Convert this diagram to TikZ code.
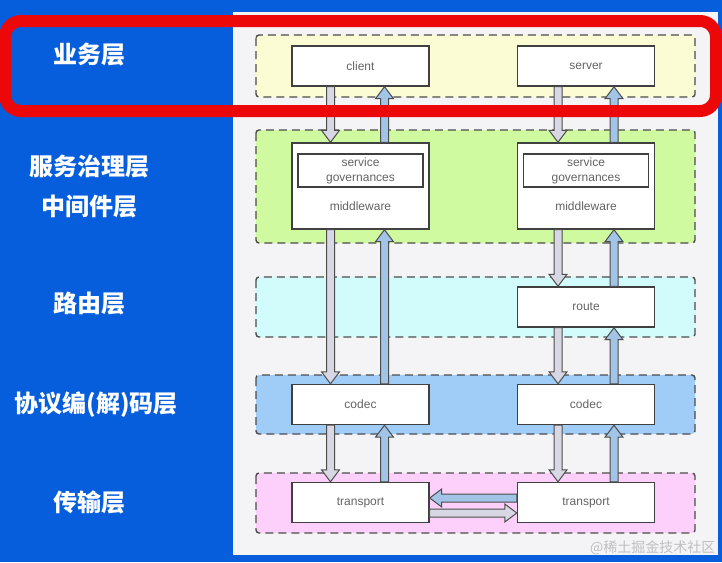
\documentclass[tikz,border=0pt]{standalone}
\usepackage{fontspec}
\setmainfont{Liberation Sans}
\newfontfamily\cjk{Noto Sans CJK SC}
\usetikzlibrary{calc}

\definecolor{bgblue}{RGB}{6,94,220}
\definecolor{panelgray}{RGB}{244,244,246}
\definecolor{markred}{RGB}{236,8,8}
\definecolor{layeryellow}{RGB}{252,252,212}
\definecolor{layergreen}{RGB}{208,250,160}
\definecolor{layercyan}{RGB}{210,252,252}
\definecolor{layerblue}{RGB}{160,204,248}
\definecolor{layerpink}{RGB}{252,208,250}
\definecolor{downfill}{RGB}{216,216,228}
\definecolor{upfill}{RGB}{162,196,230}
\definecolor{boxtext}{RGB}{100,100,100}

\tikzset{
  layer/.style={draw=black!70, line width=1.4pt, dash pattern=on 8pt off 5pt, rounded corners=3pt},
  module/.style={draw=black!75, line width=1.4pt, fill=white, minimum width=137pt, minimum height=40pt,
                 inner sep=0pt, text=boxtext, font=\fontsize{12}{14}\selectfont},
  sidelabel/.style={text=white, font=\cjk\bfseries\fontsize{24}{28}\selectfont},
  downarrow/.style={draw=black!70, line width=1pt, fill=downfill},
  uparrow/.style={draw=black!70, line width=1pt, fill=upfill}
}

% fat arrow from #2 to #3
\newcommand\blockarrow[3]{
  \path (#2) coordinate (ba-a) (#3) coordinate (ba-b);
  \path ($(ba-b)!12pt!(ba-a)$) coordinate (ba-h);
  \filldraw[#1] ($(ba-a)!4pt!90:(ba-b)$) -- ($(ba-h)!4pt!90:(ba-b)$) -- ($(ba-h)!9pt!90:(ba-b)$)
    -- (ba-b) -- ($(ba-h)!9pt!-90:(ba-b)$) -- ($(ba-h)!4pt!-90:(ba-b)$) -- ($(ba-a)!4pt!-90:(ba-b)$) -- cycle;
}

\begin{document}
\begin{tikzpicture}[x=1pt, y=-1pt]
    \useasboundingbox (0,0) rectangle (722,562);
    \fill[bgblue] (0,0) rectangle (722,562);
    \fill[panelgray] (233,12) rectangle (718,555);

    % Layers
    \draw[layer, fill=layeryellow] (256,35) rectangle (695,97);
    \draw[layer, fill=layergreen] (256,130) rectangle (695,243);
    \draw[layer, fill=layercyan] (256,277) rectangle (695,337);
    \draw[layer, fill=layerblue] (256,375) rectangle (695,434);
    \draw[layer, fill=layerpink] (256,473) rectangle (695,533);

    % Side labels
    \node[sidelabel] (lbiz) at (89,55) {业务层};
    \node[sidelabel] (lgov) at (89,167) {服务治理层};
    \node[sidelabel] (lmid) at (89,207) {中间件层};
    \node[sidelabel] (lroute) at (89,304) {路由层};
    \node[sidelabel] (lcodec) at (96,405) {协议编(解)码层};
    \node[sidelabel] (ltrans) at (89,502) {传输层};

    % Left column
    \node[module] (client) at (360.5,66) {client};
    \node[module, minimum height=86pt] (mwL) at (360.5,186) {};
    \node[module, minimum width=125pt, minimum height=33pt, align=center,
          font=\fontsize{12}{15}\selectfont] (govL) at (360.5,170.5) {service\\governances};
    \node[text=boxtext, font=\fontsize{12}{14}\selectfont] (mwLtext) at (360.5,206) {middleware};
    \node[module] (codecL) at (360.5,404.5) {codec};
    \node[module] (transL) at (360.5,502.5) {transport};

    % Right column
    \node[module] (server) at (586,66) {server};
    \node[module, minimum height=86pt] (mwR) at (586,186) {};
    \node[module, minimum width=125pt, minimum height=33pt, align=center,
          font=\fontsize{12}{15}\selectfont] (govR) at (586,170.5) {service\\governances};
    \node[text=boxtext, font=\fontsize{12}{14}\selectfont] (mwRtext) at (586,206) {middleware};
    \node[module] (route) at (586,307) {route};
    \node[module] (codecR) at (586,404.5) {codec};
    \node[module] (transR) at (586,502.5) {transport};

    % Arrows, left column
    \blockarrow{downarrow}{[xshift=-30pt]client.south}{[xshift=-30pt]mwL.north}
    \blockarrow{uparrow}{[xshift=24pt]mwL.north}{[xshift=24pt]client.south}
    \blockarrow{downarrow}{[xshift=-30pt]mwL.south}{[xshift=-30pt]codecL.north}
    \blockarrow{uparrow}{[xshift=24pt]codecL.north}{[xshift=24pt]mwL.south}
    \blockarrow{downarrow}{[xshift=-30pt]codecL.south}{[xshift=-30pt]transL.north}
    \blockarrow{uparrow}{[xshift=24pt]transL.north}{[xshift=24pt]codecL.south}

    % Arrows, right column
    \blockarrow{downarrow}{[xshift=-28pt]server.south}{[xshift=-28pt]mwR.north}
    \blockarrow{uparrow}{[xshift=28pt]mwR.north}{[xshift=28pt]server.south}
    \blockarrow{downarrow}{[xshift=-28pt]mwR.south}{[xshift=-28pt]route.north}
    \blockarrow{uparrow}{[xshift=28pt]route.north}{[xshift=28pt]mwR.south}
    \blockarrow{downarrow}{[xshift=-28pt]route.south}{[xshift=-28pt]codecR.north}
    \blockarrow{uparrow}{[xshift=28pt]codecR.north}{[xshift=28pt]route.south}
    \blockarrow{downarrow}{[xshift=-28pt]codecR.south}{[xshift=-28pt]transR.north}
    \blockarrow{uparrow}{[xshift=28pt]transR.north}{[xshift=28pt]codecR.south}

    % Transport to transport
    \blockarrow{uparrow}{[yshift=4.5pt]transR.west}{[yshift=4.5pt]transL.east}
    \blockarrow{downarrow}{[yshift=-10.5pt]transL.east}{[yshift=-10.5pt]transR.west}

    % Highlight
    \draw[markred, line width=12pt, rounded corners=16pt] (5,21) rectangle (716,111);

    \node[text=black!25, font=\cjk\fontsize{14}{16}\selectfont, anchor=east] (wm) at (719,548) {@稀土掘金技术社区};
\end{tikzpicture}
\end{document}
